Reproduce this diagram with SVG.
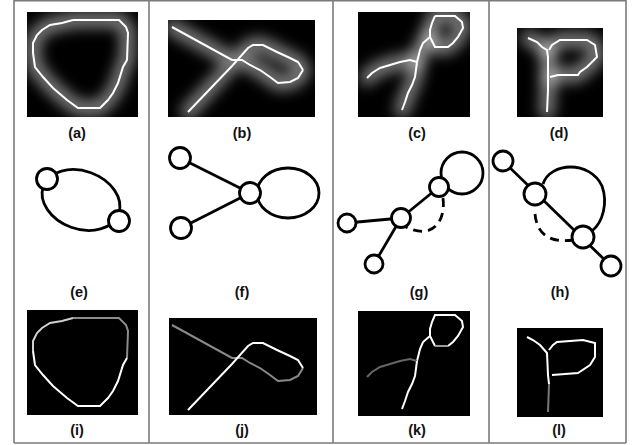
<svg xmlns="http://www.w3.org/2000/svg" width="634" height="445" viewBox="0 0 634 445">
<style>
.frame{fill:none;stroke:#7a7a7a;stroke-width:1.6}
.lbl{font-family:"Liberation Sans",Arial,sans-serif;font-weight:bold;font-size:14.5px;fill:#111;text-anchor:middle}
.bg{fill:#000}
.glow{fill:none;stroke:#fff;stroke-width:15;stroke-opacity:0.5;stroke-linejoin:round;stroke-linecap:round}
.sk{fill:none;stroke:#fff;stroke-width:2;stroke-linejoin:miter}
.node{fill:#fff;stroke:#000;stroke-width:2.8}
.edge{fill:none;stroke:#000;stroke-width:2.8}
.dash{fill:none;stroke:#000;stroke-width:2.8;stroke-dasharray:9 6}
</style>
<defs>
<filter id="blur" filterUnits="userSpaceOnUse" x="0" y="0" width="634" height="445"><feGaussianBlur stdDeviation="7"/></filter>
<clipPath id="ca"><rect x="27" y="12" width="111" height="105"/></clipPath>
<clipPath id="cb"><rect x="168" y="20" width="147" height="97"/></clipPath>
<clipPath id="cc"><rect x="358" y="12" width="112" height="105"/></clipPath>
<clipPath id="cd"><rect x="517" y="28" width="86" height="89"/></clipPath>
<polyline id="pa" points="73,20 119,20 126,27 128,33 127,60 123,67 118,83 113,93 108,100 100,108 78,108 67,100 53,88 43,77 35,67 33,53 33,43 37,35 42,30 50,25 62,23 73,20"/>
</defs>
<rect width="634" height="445" fill="#fff"/>
<g id="frame">
<line class="frame" x1="14" y1="0.8" x2="626" y2="0.8"/>
<line class="frame" x1="14" y1="0" x2="14" y2="443"/>
<line class="frame" x1="149" y1="0" x2="149" y2="443"/>
<line class="frame" x1="333" y1="0" x2="333" y2="443"/>
<line class="frame" x1="489" y1="0" x2="489" y2="443"/>
<line class="frame" x1="626" y1="0" x2="626" y2="443"/>
<line class="frame" x1="14" y1="443" x2="626" y2="443"/>
</g>
<!-- Row 1 -->
<g id="panel-a">
<rect class="bg" x="27" y="12" width="111" height="105"/>
<g clip-path="url(#ca)"><g filter="url(#blur)"><use href="#pa" class="glow"/></g></g>
<use href="#pa" class="sk"/>
<text class="lbl" x="77" y="138">(a)</text>
</g>
<g id="panel-b">
<rect class="bg" x="168" y="20" width="147" height="97"/>
<g clip-path="url(#cb)"><g filter="url(#blur)">
<polyline class="glow" points="172,27 232,60 242,60 250,65 260,70 270,77 278,83 290,82 298,78 303,70 298,62 287,57 277,52 263,45 253,45 248,48 232,64 188,112"/>
</g></g>
<polyline class="sk" points="172,27 232,60 242,60 250,65 260,70 270,77 278,83 290,82 298,78 303,70"/>
<polyline class="sk" points="188,112 232,66 248,48 253,45 263,45 277,52 290,58 298,62 303,70"/>
<text class="lbl" x="242" y="138">(b)</text>
</g>
<g id="panel-c">
<rect class="bg" x="358" y="12" width="112" height="105"/>
<g clip-path="url(#cc)"><g filter="url(#blur)">
<polyline class="glow" points="435,16 455,16 462,22 463,28 458,37 453,43 448,47 435,47 433,43 430,37 430,30 432,23 435,16"/>
<polyline class="glow" points="430,37 423,43 420,50 417,62 410,60 400,62 390,65 380,68 372,73 367,78"/>
<polyline class="glow" points="417,62 415,77 412,85 408,93 405,102 402,110"/>
</g></g>
<polyline class="sk" points="435,16 455,16 462,22 463,28 458,37 453,43 448,47 435,47 433,43 430,37 430,30 432,23 435,16"/>
<polyline class="sk" points="430,37 423,43 420,50 417,62"/>
<polyline class="sk" points="417,62 410,60 400,62 390,65 380,68 372,73 367,78"/>
<polyline class="sk" points="417,62 415,77 412,85 408,93 405,102 402,110"/>
<text class="lbl" x="417" y="138">(c)</text>
</g>
<g id="panel-d">
<rect class="bg" x="517" y="28" width="86" height="89"/>
<g clip-path="url(#cd)"><g filter="url(#blur)">
<polyline class="glow" points="528,38 537,42 542,47 547,50 548,57 548,77 548,90 547,112"/>
<polyline class="glow" points="548,52 552,45 560,40 587,40 595,45 597,57 592,62 587,67 580,72 578,75 558,75 550,77"/>
</g></g>
<polyline class="sk" points="528,38 537,42 542,47 547,50 548,57 548,77 548,90 547,112"/>
<polyline class="sk" points="549,50 552,45 560,40 587,40 595,45 597,57 592,62 587,67 580,72 578,75 558,75 550,77"/>
<text class="lbl" x="559" y="138">(d)</text>
</g>
<!-- Row 2 -->
<g id="panel-e">
<g id="e-connectors">
<ellipse class="edge" cx="81" cy="200" rx="40" ry="29" transform="rotate(20 81 200)"/>
</g>
<g id="e-n1"><circle class="node" cx="47" cy="179" r="10.5"/></g>
<g id="e-n2"><circle class="node" cx="119" cy="221" r="10.5"/></g>
<text class="lbl" x="79" y="297">(e)</text>
</g>
<g id="panel-f">
<g id="f-connectors">
<line class="edge" x1="180" y1="158" x2="250" y2="193"/>
<line class="edge" x1="181" y1="228" x2="250" y2="193"/>
<ellipse class="edge" cx="288" cy="193" rx="31" ry="25"/>
</g>
<g id="f-n1"><circle class="node" cx="180" cy="158" r="10.5"/></g>
<g id="f-n2"><circle class="node" cx="181" cy="228" r="10.5"/></g>
<g id="f-n3"><circle class="node" cx="250" cy="193" r="10.5"/></g>
<text class="lbl" x="242" y="297">(f)</text>
</g>
<g id="panel-g">
<g id="g-connectors">
<line class="edge" x1="347" y1="223" x2="401" y2="218"/>
<line class="edge" x1="374" y1="264" x2="401" y2="218"/>
<line class="edge" x1="401" y1="218" x2="439" y2="187"/>
<circle class="edge" cx="462" cy="173" r="21"/>
<path class="dash" d="M443,198 C446,222 432,240 406,227"/>
</g>
<g id="g-n1"><circle class="node" cx="347" cy="223" r="9"/></g>
<g id="g-n2"><circle class="node" cx="374" cy="264" r="9"/></g>
<g id="g-n3"><circle class="node" cx="401" cy="218" r="9.5"/></g>
<g id="g-n4"><circle class="node" cx="439" cy="187" r="9.5"/></g>
<text class="lbl" x="419" y="297">(g)</text>
</g>
<g id="panel-h">
<g id="h-connectors">
<line class="edge" x1="503" y1="161" x2="611" y2="266"/>
<path class="edge" d="M543,184 C550,162 590,160 602,186 C608,203 603,222 592,231"/>
<path class="dash" d="M535,214 C537,236 552,243 573,240"/>
</g>
<g id="h-n1"><circle class="node" cx="503" cy="161" r="10"/></g>
<g id="h-n2"><circle class="node" cx="535" cy="194" r="11"/></g>
<g id="h-n3"><circle class="node" cx="583" cy="237" r="11"/></g>
<g id="h-n4"><circle class="node" cx="611" cy="266" r="10"/></g>
<text class="lbl" x="560" y="297">(h)</text>
</g>
<!-- Row 3 -->
<g id="panel-i">
<rect class="bg" x="27" y="310" width="111" height="105"/>
<g transform="translate(0,298)">
<polyline class="sk" points="33,53 33,43 37,35 42,30 50,25 62,23 73,20" style="stroke:#d0d0d0"/>
<polyline class="sk" points="73,20 119,20 126,27 128,33 127,60" style="stroke:#8c8c8c"/>
<polyline class="sk" points="127,60 123,67 118,83 113,93 108,100 100,108 78,108 67,100 53,88 43,77 35,67 33,53"/>
</g>
<text class="lbl" x="77" y="435">(i)</text>
</g>
<g id="panel-j">
<rect class="bg" x="169" y="318" width="148" height="97"/>
<g transform="translate(0,298)">
<polyline class="sk" points="172,27 232,60 242,60 250,65 260,70 270,77 278,83 290,82 298,78 303,70" style="stroke:#8a8a8a"/>
<polyline class="sk" points="188,112 232,66 248,48 253,45 263,45 277,52 290,58 298,62 303,70"/>
</g>
<text class="lbl" x="242" y="435">(j)</text>
</g>
<g id="panel-k">
<rect class="bg" x="358" y="311" width="112" height="105"/>
<g transform="translate(0,299)">
<polyline class="sk" points="448,47 453,43 458,37 463,28 462,22 455,16 435,16 432,23 430,30 430,37 433,43 435,47"/>
<polyline class="sk" points="435,47 448,47" style="stroke:#9a9a9a"/>
<polyline class="sk" points="430,37 423,43 420,50 417,62"/>
<polyline class="sk" points="417,62 410,60 400,62 390,65 380,68 372,73 367,78" style="stroke:#666"/>
<polyline class="sk" points="417,62 415,77 412,85 408,93 405,102 402,110"/>
</g>
<text class="lbl" x="417" y="435">(k)</text>
</g>
<g id="panel-l">
<rect class="bg" x="517" y="328" width="86" height="89"/>
<polyline class="sk" points="527,337 533,340 540,345 547,353 548,375 549,384"/>
<polyline class="sk" points="549,384 548,412" style="stroke:#777"/>
<polyline class="sk" points="549,350 553,345 557,342 583,340 595,343 595,357 590,365 578,373 552,375"/>
<text class="lbl" x="559" y="435">(l)</text>
</g>
</svg>
